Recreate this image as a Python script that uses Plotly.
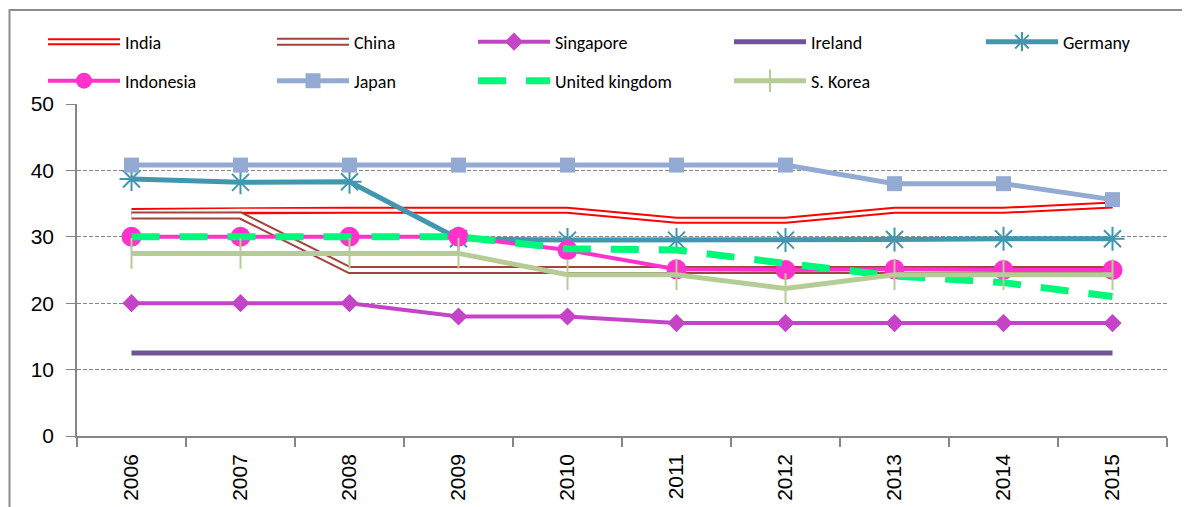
import plotly.graph_objects as go

years = ["2006", "2007", "2008", "2009", "2010", "2011", "2012", "2013", "2014", "2015"]
india = [33.8, 34.0, 34.0, 34.0, 34.0, 32.5, 32.5, 34.0, 34.0, 34.8]
china = [33.2, 33.2, 25.0, 25.0, 25.0, 25.0, 25.0, 25.0, 25.0, 25.0]
singapore = [20, 20, 20, 18, 18, 17, 17, 17, 17, 17]
ireland = [12.5, 12.5, 12.5, 12.5, 12.5, 12.5, 12.5, 12.5, 12.5, 12.5]
germany = [38.7, 38.2, 38.3, 29.7, 29.5, 29.5, 29.5, 29.6, 29.7, 29.7]
indonesia = [30, 30, 30, 30, 28.0, 25.1, 25.0, 25.1, 25.0, 25.0]
japan = [40.8, 40.8, 40.8, 40.8, 40.8, 40.8, 40.8, 38.0, 38.0, 35.6]
uk = [30, 30, 30, 30, 28.2, 28.0, 26.0, 24.1, 23.1, 21.0]
skorea = [27.5, 27.5, 27.5, 27.5, 24.3, 24.3, 22.2, 24.3, 24.3, 24.3]

W, H = 1190, 507
OFF = 8  # page body margin in the browser
L, R, T, B = 77 - OFF, 31, 104 - OFF, 79

fig = go.Figure()

# legend slot positions (screen pixels): (left x, row center y)
slots = {
    "legend": (43, 42), "legend2": (272, 42), "legend3": (473, 42),
    "legend4": (729, 42), "legend5": (981, 42),
    "legend6": (43, 81), "legend7": (272, 81), "legend8": (473, 81),
    "legend9": (729, 81),
    "legend10": (43, 42), "legend11": (272, 42),
}

def add(name, y, leg, color, width, dash=None, marker=None, showlegend=True):
    mode = "lines+markers" if marker else "lines"
    fig.add_trace(go.Scatter(
        x=years, y=y, name=name, mode=mode, legend=leg, showlegend=showlegend,
        line=dict(color=color, width=width, dash=dash),
        marker=marker, hoverinfo="skip"))

add("India", india, "legend", "#FF0000", 7)
add("", india, "legend10", "#FFFFFF", 3)
add("China", china, "legend2", "#A3433D", 8)
add("", china, "legend11", "#FFFFFF", 4)
add("Singapore", singapore, "legend3", "#C444C8", 4,
    marker=dict(symbol="diamond", size=14, color="#C444C8"))
add("Ireland", ireland, "legend4", "#6F5597", 5)
add("Germany", germany, "legend5", "#4197AE", 5,
    marker=dict(symbol="asterisk-open", size=20, color="#4197AE",
                line=dict(color="#4197AE", width=2)))
add("Indonesia", indonesia, "legend6", "#FF33CC", 4,
    marker=dict(symbol="circle", size=20, color="#FF33CC"))
add("Japan", japan, "legend7", "#93AAD2", 5,
    marker=dict(symbol="square", size=15, color="#93AAD2"))
add("United kingdom", uk, "legend8", "#00F87A", 7, dash="28px,20px")
add("S. Korea", skorea, "legend9", "#B5CC95", 5,
    marker=dict(symbol="line-ns-open", size=22, color="#B5CC95",
                line=dict(color="#B5CC95", width=2)))

legfont = dict(family="Carlito, Calibri, Lato, sans-serif", size=18, color="#000000")
layout_legends = {}
for k, (px, py) in slots.items():
    layout_legends[k] = dict(
        x=(px - OFF) / W, y=1 - (py - OFF) / H, xref="container", yref="container",
        xanchor="left", yanchor="middle", orientation="v",
        bgcolor="rgba(0,0,0,0)", borderwidth=0, font=legfont,
        itemwidth=72, itemclick=False, itemdoubleclick=False)

fig.update_layout(
    width=W, height=H,
    margin=dict(l=L, r=R, t=T, b=B, autoexpand=False),
    paper_bgcolor="white", plot_bgcolor="white",
    showlegend=True,
    **layout_legends,
    xaxis=dict(
        type="category", range=[-0.5, 9.5], showgrid=False, automargin=False,
        showline=True, linecolor="#868686", linewidth=1.5,
        ticks="outside", tickson="boundaries", ticklen=9, tickcolor="#868686",
        tickwidth=1.5, tickangle=-90, ticklabelstandoff=8,
        tickfont=dict(family="Liberation Sans, Arial", size=21, color="#000000"),
        zeroline=False, fixedrange=True),
    yaxis=dict(
        range=[0, 50], dtick=10, showgrid=True, gridcolor="#868686",
        griddash="4px,2px", gridwidth=1, automargin=False,
        showline=True, linecolor="#868686", linewidth=1.5,
        ticks="outside", ticklen=9, tickcolor="#868686", tickwidth=1,
        ticklabelstandoff=8,
        tickfont=dict(family="Liberation Sans, Arial", size=21, color="#000000"),
        zeroline=False, fixedrange=True),
)

# outer chart frame (left edge at the figure's edge, top at screen y=10)
pw, ph = W - L - R, H - T - B
fig.add_shape(type="rect", xref="paper", yref="paper",
              x0=(1.5 - L) / pw, x1=(1250 - L) / pw,
              y0=(H - B - 560) / ph, y1=(H - B - (10 - OFF)) / ph,
              line=dict(color="#8C8C8C", width=2), layer="below")

fig.write_html("out.html")
